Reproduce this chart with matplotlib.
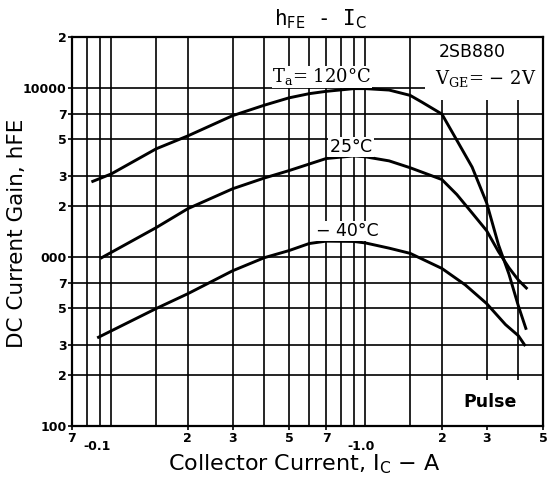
import matplotlib.pyplot as plt
from matplotlib.patches import Rectangle
from matplotlib.transforms import blended_transform_factory

# hFE vs IC curves
ic_120 = [0.0845, 0.1, 0.15, 0.2, 0.3, 0.4, 0.5, 0.6, 0.7, 0.9, 1.0, 1.24, 1.5, 1.67, 2.0,
          2.29, 2.63, 3.0, 3.34, 3.67, 4.0, 4.28]
hfe_120 = [2800, 3100, 4360, 5200, 6850, 7900, 8730, 9240, 9540, 9900, 9900, 9710, 9030, 8230, 7000,
           4900, 3400, 2090, 1180, 794, 513, 378]

ic_25 = [0.0916, 0.15, 0.2, 0.3, 0.4, 0.5, 0.7, 0.9, 1.0, 1.24, 1.5, 2.0, 2.29, 2.63, 3.0,
         3.34, 3.67, 4.0, 4.3]
hfe_25 = [990, 1490, 1930, 2530, 2930, 3240, 3820, 3960, 3910, 3700, 3370, 2870, 2340, 1820, 1430,
          1075, 864, 730, 655]

ic_m40 = [0.089, 0.15, 0.2, 0.3, 0.4, 0.5, 0.6, 0.7, 0.9, 1.0, 1.24, 1.5, 2.0, 2.47, 3.0,
          3.56, 4.0, 4.23]
hfe_m40 = [335, 495, 606, 828, 990, 1090, 1200, 1240, 1235, 1210, 1127, 1050, 855, 684, 530,
           398, 342, 302]

# grid and tick labels
x_grid = [0.07, 0.08, 0.09, 0.1, 0.15, 0.2, 0.3, 0.4, 0.5, 0.6, 0.7, 0.8, 0.9, 1.0, 1.5, 2, 3, 4, 5]
x_labeled = [0.07, 0.2, 0.3, 0.5, 0.7, 2, 3, 5]
x_labels = ['7', '2', '3', '5', '7', '2', '3', '5']
x_low = [0.088, 0.96]
x_low_labels = ['-0.1', '-1.0']
y_grid = [100, 200, 300, 500, 700, 1000, 2000, 3000, 5000, 7000, 10000, 20000]
y_labels = ['100', '2', '3', '5', '7', '000', '2', '3', '5', '7', '10000', '2']

fig = plt.figure(figsize=(5.47, 4.79), dpi=100)
ax = fig.add_axes([72 / 547, 53 / 479, 471 / 547, 389 / 479])
ax.set_xscale('log')
ax.set_yscale('log')
ax.set_xlim(0.07, 5)
ax.set_ylim(100, 20000)

for v in x_grid:
    ax.axvline(v, color='black', lw=1.2, zorder=1)
for v in y_grid:
    ax.axhline(v, color='black', lw=1.2, zorder=1)

# white blank areas (label boxes)
ax.add_patch(Rectangle((0.75, 0.838), 0.25, 0.162, transform=ax.transAxes,
                       facecolor='white', edgecolor='none', zorder=2))
ax.add_patch(Rectangle((0.79, 0.0), 0.21, 0.118, transform=ax.transAxes,
                       facecolor='white', edgecolor='none', zorder=2))

ax.plot(ic_120, hfe_120, color='black', lw=2.1, zorder=3)
ax.plot(ic_25, hfe_25, color='black', lw=2.1, zorder=3)
ax.plot(ic_m40, hfe_m40, color='black', lw=2.1, zorder=3)

ax.minorticks_off()
ax.set_xticks(x_labeled)
ax.set_xticklabels(x_labels, fontsize=9, fontweight='bold')
ax.set_yticks(y_grid)
ax.set_yticklabels(y_labels, fontsize=9, fontweight='bold')
ax.tick_params(axis='both', length=3, width=1.2, pad=1)
trans = blended_transform_factory(ax.transData, ax.transAxes)
for v, s in zip(x_low, x_low_labels):
    ax.text(v, -0.035, s, transform=trans, ha='center', va='top',
            fontsize=9, fontweight='bold')

for sp in ax.spines.values():
    sp.set_linewidth(1.6)
    sp.set_zorder(5)

# annotations
wbox = dict(facecolor='white', edgecolor='none', pad=0.5)
ax.text(0.43, 11600, r'T$_{\rm a}$= 120$\degree$C', fontsize=13, family='DejaVu Serif',
        math_fontfamily='dejavuserif', ha='left', va='center', bbox=wbox, zorder=4)
ax.text(0.72, 4480, r'25$\degree$C', fontsize=12.5, family='DejaVu Sans',
        ha='left', va='center', bbox=wbox, zorder=4)
ax.text(0.64, 1424, '\u2212 40\u00b0C', fontsize=12.5, family='DejaVu Sans',
        ha='left', va='center', bbox=wbox, zorder=4)
ax.text(1.95, 16300, '2SB880', fontsize=12.5, family='DejaVu Sans', ha='left', va='center', zorder=4)
ax.text(1.88, 11300, r'V$_{\rm GE}$= $-$ 2V', fontsize=13, family='DejaVu Serif',
        math_fontfamily='dejavuserif', ha='left', va='center', zorder=4)
ax.text(2.44, 138, 'Pulse', fontsize=12.5, fontweight='bold', family='DejaVu Sans',
        ha='left', va='center', zorder=4)

fig.text(320 / 547, 1 - 19 / 479, r'h$_{\rm FE}$ - I$_{\rm C}$', fontsize=15,
         family='DejaVu Sans Mono', ha='center', va='center')
fig.text(304 / 547, 1 - 464 / 479, r'Collector Current, I$_{\rm C}$ $-$ A', fontsize=16,
         ha='center', va='center')
fig.text(17 / 547, 1 - 233 / 479, r'DC Current Gain, hFE', fontsize=15.5,
         rotation=90, ha='center', va='center')

fig.savefig('out.png', dpi=100)
